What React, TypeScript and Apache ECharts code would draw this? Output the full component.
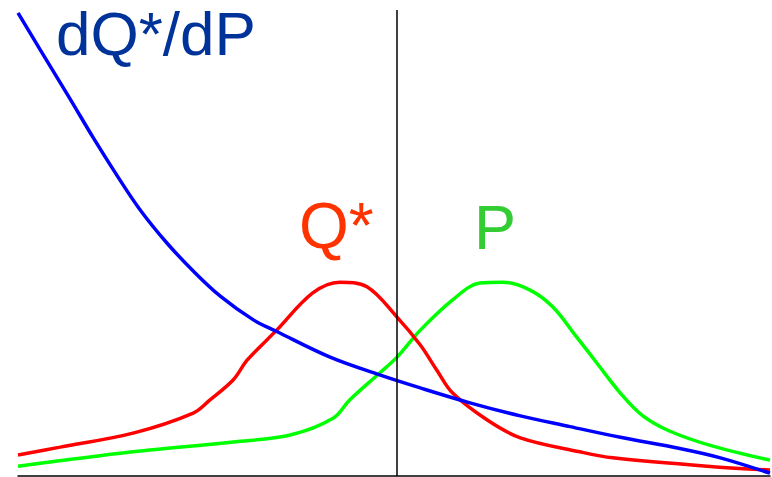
import React, { useEffect, useRef } from "react";
import * as echarts from "echarts";

// x positions (arbitrary units 0..100), y values (0..100)
const blueX = [0, 2.9, 6.9, 10.0, 13.2, 16.2, 19.8, 23.3, 26.9, 31.3, 34.4, 41.5, 48.1, 53.5, 60.1, 66.8, 73.4, 80.1, 88.0, 93.4, 100];
const blueY = [99.4, 91.6, 81.0, 72.6, 64.4, 57.2, 50.0, 44.0, 38.6, 33.5, 31.0, 25.5, 21.7, 18.9, 15.7, 12.9, 10.6, 8.3, 5.9, 3.9, 0.6];

const redX = [0, 5.6, 15.3, 23.3, 25.5, 28.6, 30.5, 34.4, 39.2, 42.8, 46.4, 50.4, 53.5, 55.7, 57.8, 62.4, 66.8, 74.7, 79.1, 92.4, 100];
const redY = [4.5, 6.2, 9.2, 13.5, 16.3, 20.6, 24.9, 31.3, 39.3, 41.6, 40.6, 34.1, 28.1, 22.7, 17.8, 12.0, 8.2, 5.2, 3.9, 2.0, 1.3];

const greenX = [0, 15.3, 28.6, 36.2, 41.9, 44.1, 48.1, 50.4, 53.5, 57.8, 61.4, 64.5, 68.1, 71.1, 74.3, 77.0, 80.1, 83.1, 86.7, 92.4, 100];
const greenY = [2.1, 5.2, 7.3, 8.8, 12.4, 16.3, 22.1, 25.5, 31.3, 37.8, 41.4, 41.6, 39.9, 36.3, 29.8, 24.2, 17.8, 12.9, 9.6, 6.4, 3.4];

const divider = 50.4;

const labels = ["dQ*/dP", "Q*", "P"];

const zip = (xs: number[], ys: number[]) => xs.map((x, i) => [x, ys[i]]);

export default function App() {
  const ref = useRef<HTMLDivElement>(null);
  useEffect(() => {
    document.body.style.margin = "0";
    const chart = echarts.init(ref.current!, null, { renderer: "svg" });
    const lineSeries = (name: string, data: number[][], color: string, extra: any = {}) => ({
      name,
      type: "line",
      data,
      smooth: 0.35,
      showSymbol: false,
      symbol: "none",
      lineStyle: { color, width: 3.5 },
      z: 3,
      ...extra,
    });
    chart.setOption({
      animation: false,
      backgroundColor: "#ffffff",
      grid: { left: 18, right: 2, top: 10, bottom: 1 },
      xAxis: {
        type: "value",
        min: 0,
        max: 100,
        axisLine: { show: true, onZero: false, lineStyle: { color: "#000", width: 1.5 } },
        axisTick: { show: false },
        axisLabel: { show: false },
        splitLine: { show: false },
      },
      yAxis: {
        type: "value",
        min: 0,
        max: 100,
        show: false,
        splitLine: { show: false },
      },
      series: [
        lineSeries("P", zip(greenX, greenY), "#00ff00"),
        lineSeries("Q*", zip(redX, redY), "#ff0000"),
        lineSeries("dQ*/dP", zip(blueX, blueY), "#0000ff", {
          markLine: {
            silent: true,
            symbol: "none",
            label: { show: false },
            lineStyle: { color: "#000", width: 1.5, type: "solid" },
            data: [{ xAxis: divider }],
          },
        }),
      ],
      graphic: [
        {
          type: "text",
          left: 56,
          top: 2,
          style: { text: labels[0], fill: "#003399", font: "62px 'Liberation Sans', Arial, sans-serif" },
        },
        {
          type: "text",
          left: 299,
          top: 194,
          style: { text: labels[1], fill: "#ff3300", font: "64px 'Liberation Sans', Arial, sans-serif" },
        },
        {
          type: "text",
          left: 474,
          top: 195,
          style: { text: labels[2], fill: "#33cc33", font: "63px 'Liberation Sans', Arial, sans-serif" },
        },
      ],
    });
    return () => chart.dispose();
  }, []);
  return <div ref={ref} style={{ width: 772, height: 477 }} />;
}
